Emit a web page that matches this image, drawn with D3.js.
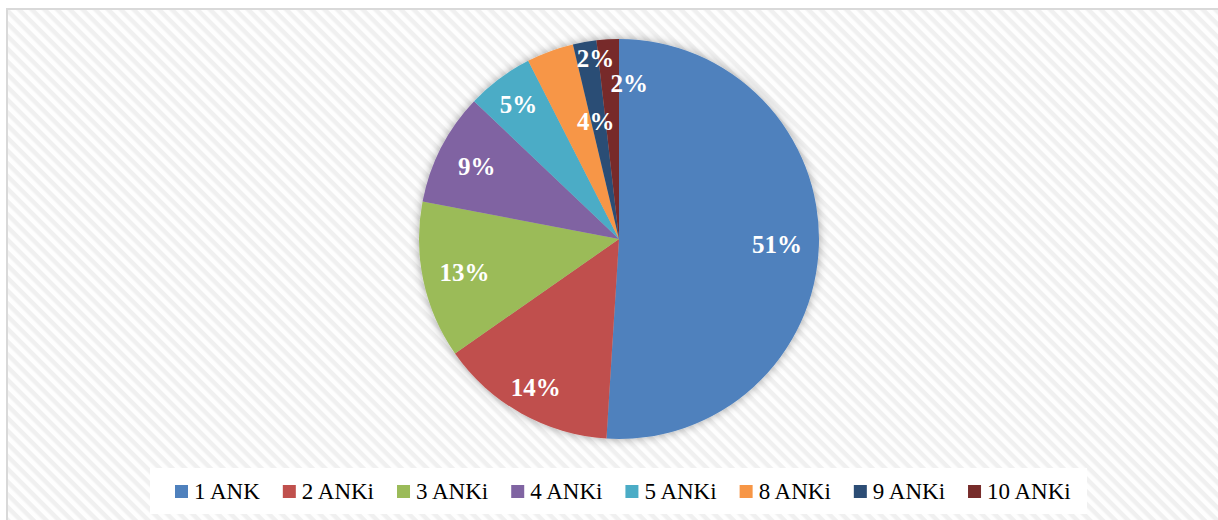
<!DOCTYPE html>
<html>
<head>
<meta charset="utf-8">
<script src="https://cdn.jsdelivr.net/npm/d3@7"></script>
<style>
  body { margin: 0; background: #fff; }
  svg { display: block; }
</style>
</head>
<body>
<svg width="1218" height="520"></svg>
<script>
var width = 1218;
var height = 520;

// data
var categories = ["1 ANK", "2 ANKi", "3 ANKi", "4 ANKi", "5 ANKi", "8 ANKi", "9 ANKi", "10 ANKi"];
var shares = [51.0, 14.3, 12.7, 9.1, 5.4, 3.8, 1.9, 1.8];
var labels = ["51%", "14%", "13%", "9%", "5%", "4%", "2%", "2%"];
var colors = ["#4F81BD", "#C0504D", "#9BBB59", "#8064A2", "#4BACC6", "#F79646", "#2C4D75", "#772C2A"];

// label placement tweaks (fraction of radius, extra angle in degrees)
var labelRadius = [0.79, 0.85, 0.79, 0.8, 0.84, 0.6, 0.91, 0.78];
var labelTurn = [0, 0, 0, 0, 0, 9, 2.5, 7];

var cx = 619, cy = 239, R = 200;

var svg = d3.select("svg");
var defs = svg.append("defs");

var pat = defs.append("pattern")
    .attr("id", "hatch")
    .attr("patternUnits", "userSpaceOnUse")
    .attr("width", 9).attr("height", 9)
    .attr("patternTransform", "rotate(45)");
pat.append("rect").attr("width", 9).attr("height", 9).attr("fill", "#fefefe");
pat.append("rect").attr("width", 9).attr("height", 4.5).attr("fill", "#f0f0f0");

var glow = defs.append("filter").attr("id", "glow")
    .attr("x", "-20%").attr("y", "-20%").attr("width", "140%").attr("height", "140%");
glow.append("feGaussianBlur").attr("in", "SourceAlpha").attr("stdDeviation", 5).attr("result", "b");
glow.append("feFlood").attr("flood-color", "#000").attr("flood-opacity", 0.35);
glow.append("feComposite").attr("in2", "b").attr("operator", "in").attr("result", "s");
var mg = glow.append("feMerge");
mg.append("feMergeNode").attr("in", "s");
mg.append("feMergeNode").attr("in", "SourceGraphic");

// chart area
svg.append("rect")
    .attr("x", 7).attr("y", 9)
    .attr("width", width + 20).attr("height", height + 20)
    .attr("fill", "url(#hatch)")
    .attr("stroke", "#d9d9d9").attr("stroke-width", 2);

var pie = d3.pie().sort(null).value(d => d)(shares);
var arc = d3.arc().innerRadius(0).outerRadius(R);

var g = svg.append("g").attr("transform", "translate(" + cx + "," + cy + ")");

g.append("g").attr("filter", "url(#glow)")
  .selectAll("path")
  .data(pie)
  .join("path")
    .attr("d", arc)
    .attr("fill", (d, i) => colors[i]);

g.selectAll("text.lbl")
  .data(pie)
  .join("text")
    .attr("class", "lbl")
    .attr("transform", function(d, i) {
        var a = (d.startAngle + d.endAngle) / 2 + labelTurn[i] * Math.PI / 180;
        var r = R * labelRadius[i];
        return "translate(" + (Math.sin(a) * r) + "," + (-Math.cos(a) * r) + ")";
    })
    .attr("text-anchor", "middle")
    .attr("dy", "0.35em")
    .attr("fill", "#fff")
    .style("font-family", "'Liberation Serif', 'DejaVu Serif', serif")
    .style("font-weight", "bold")
    .style("font-size", "25px")
    .text((d, i) => labels[i]);

// legend
svg.append("rect")
    .attr("x", 150).attr("y", 468)
    .attr("width", 937).attr("height", 46)
    .attr("fill", "#fff");

var legend = svg.append("g").attr("transform", "translate(175,491)");
var x = 0;
categories.forEach(function(c, i) {
    var it = legend.append("g").attr("transform", "translate(" + x + ",0)");
    it.append("rect")
        .attr("x", 0).attr("y", -6)
        .attr("width", 13).attr("height", 13)
        .attr("fill", colors[i]);
    var t = it.append("text")
        .attr("x", 19).attr("dy", "0.35em")
        .style("font-family", "'Liberation Serif', 'DejaVu Serif', serif")
        .style("font-size", "23px")
        .attr("fill", "#000")
        .text(c);
    x += 19 + t.node().getComputedTextLength() + 23;
});
</script>
</body>
</html>
